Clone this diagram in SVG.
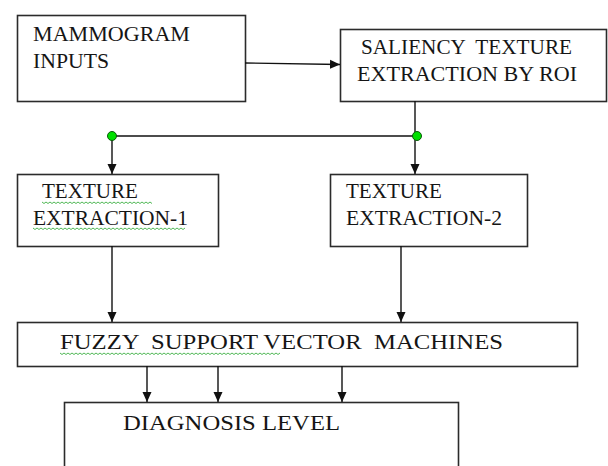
<svg xmlns="http://www.w3.org/2000/svg" width="608" height="466" viewBox="0 0 608 466">
<style>
.box{fill:#fff;stroke:#2b2b2b;stroke-width:1.6}
.t{font-family:"Liberation Serif","Times New Roman",serif;font-size:21px;fill:#151515;white-space:pre}
.c{fill:none;stroke:#111;stroke-width:1.4}
.sq{fill:none;stroke:#3cb043;stroke-width:0.9}
.dot{fill:#00e000;stroke:#0a5a0a;stroke-width:1}
</style>
<defs>
<marker id="ah" viewBox="0 0 10 10" refX="10" refY="5" markerWidth="10" markerHeight="10" markerUnits="userSpaceOnUse" orient="auto">
<path d="M0,0.5 L10,5 L0,9.5 Z" fill="#111"/>
</marker>
</defs>
<rect width="608" height="466" fill="#fff"/>
<g id="mammogram">
<rect class="box" x="17.5" y="15.5" width="228" height="86"/>
<text class="t" x="33" y="41" textLength="157" lengthAdjust="spacingAndGlyphs">MAMMOGRAM</text>
<text class="t" x="33" y="68" textLength="76" lengthAdjust="spacingAndGlyphs">INPUTS</text>
</g>
<g id="saliency">
<rect class="box" x="340.5" y="29.5" width="266" height="72"/>
<text class="t" x="361" y="54" textLength="211" lengthAdjust="spacingAndGlyphs">SALIENCY  TEXTURE</text>
<text class="t" x="357" y="81" textLength="220" lengthAdjust="spacingAndGlyphs">EXTRACTION BY ROI</text>
</g>
<g id="texture1">
<rect class="box" x="17.5" y="174.5" width="201" height="72"/>
<text class="t" x="42" y="198" textLength="96" lengthAdjust="spacingAndGlyphs">TEXTURE</text>
<text class="t" x="33" y="225" textLength="155" lengthAdjust="spacingAndGlyphs">EXTRACTION-1</text>
<path class="sq" d="M42,202 l2,1.5 2,-1.5 2,1.5 2,-1.5 2,1.5 2,-1.5 2,1.5 2,-1.5 2,1.5 2,-1.5 2,1.5 2,-1.5 2,1.5 2,-1.5 2,1.5 2,-1.5 2,1.5 2,-1.5 2,1.5 2,-1.5 2,1.5 2,-1.5 2,1.5 2,-1.5 2,1.5 2,-1.5 2,1.5 2,-1.5 2,1.5 2,-1.5 2,1.5 2,-1.5 2,1.5 2,-1.5 2,1.5 2,-1.5 2,1.5 2,-1.5 2,1.5 2,-1.5 2,1.5 2,-1.5 2,1.5 2,-1.5 2,1.5 2,-1.5 2,1.5 2,-1.5 2,1.5 2,-1.5 2,1.5 2,-1.5 2,1.5 2,-1.5 2,1.5"/>
<path class="sq" d="M33,228 l2,1.5 2,-1.5 2,1.5 2,-1.5 2,1.5 2,-1.5 2,1.5 2,-1.5 2,1.5 2,-1.5 2,1.5 2,-1.5 2,1.5 2,-1.5 2,1.5 2,-1.5 2,1.5 2,-1.5 2,1.5 2,-1.5 2,1.5 2,-1.5 2,1.5 2,-1.5 2,1.5 2,-1.5 2,1.5 2,-1.5 2,1.5 2,-1.5 2,1.5 2,-1.5 2,1.5 2,-1.5 2,1.5 2,-1.5 2,1.5 2,-1.5 2,1.5 2,-1.5 2,1.5 2,-1.5 2,1.5 2,-1.5 2,1.5 2,-1.5 2,1.5 2,-1.5 2,1.5 2,-1.5 2,1.5 2,-1.5 2,1.5 2,-1.5 2,1.5 2,-1.5 2,1.5 2,-1.5 2,1.5 2,-1.5 2,1.5 2,-1.5 2,1.5 2,-1.5 2,1.5 2,-1.5 2,1.5 2,-1.5 2,1.5 2,-1.5 2,1.5 2,-1.5 2,1.5 2,-1.5 2,1.5 2,-1.5"/>
</g>
<g id="texture2">
<rect class="box" x="330.5" y="174.5" width="197" height="72"/>
<text class="t" x="346" y="198" textLength="96" lengthAdjust="spacingAndGlyphs">TEXTURE</text>
<text class="t" x="346" y="225" textLength="156" lengthAdjust="spacingAndGlyphs">EXTRACTION-2</text>
</g>
<g id="fsvm">
<rect class="box" x="17.5" y="322.5" width="560" height="44"/>
<text class="t" x="60" y="349" textLength="443" lengthAdjust="spacingAndGlyphs">FUZZY  SUPPORT VECTOR  MACHINES</text>
<path class="sq" d="M60,353 l2,1.5 2,-1.5 2,1.5 2,-1.5 2,1.5 2,-1.5 2,1.5 2,-1.5 2,1.5 2,-1.5 2,1.5 2,-1.5 2,1.5 2,-1.5 2,1.5 2,-1.5 2,1.5 2,-1.5 2,1.5 2,-1.5 2,1.5 2,-1.5 2,1.5 2,-1.5 2,1.5 2,-1.5 2,1.5 2,-1.5 2,1.5 2,-1.5 2,1.5 2,-1.5 2,1.5 2,-1.5 2,1.5 2,-1.5 2,1.5 2,-1.5 2,1.5 2,-1.5 2,1.5 2,-1.5 2,1.5 2,-1.5 2,1.5 2,-1.5 2,1.5 2,-1.5 2,1.5 2,-1.5 2,1.5 2,-1.5 2,1.5 2,-1.5 2,1.5 2,-1.5 2,1.5 2,-1.5 2,1.5 2,-1.5 2,1.5 2,-1.5 2,1.5 2,-1.5 2,1.5 2,-1.5 2,1.5 2,-1.5 2,1.5 2,-1.5 2,1.5 2,-1.5 2,1.5 2,-1.5 2,1.5 2,-1.5 2,1.5 2,-1.5 2,1.5 2,-1.5 2,1.5 2,-1.5 2,1.5 2,-1.5 2,1.5 2,-1.5 2,1.5 2,-1.5 2,1.5 2,-1.5 2,1.5 2,-1.5 2,1.5 2,-1.5 2,1.5 2,-1.5 2,1.5 2,-1.5 2,1.5 2,-1.5 2,1.5 2,-1.5 2,1.5 2,-1.5 2,1.5 2,-1.5 2,1.5 2,-1.5 2,1.5 2,-1.5"/>
</g>
<g id="diagnosis">
<rect class="box" x="64.5" y="402.5" width="394" height="80"/>
<text class="t" x="123" y="430" textLength="217" lengthAdjust="spacingAndGlyphs">DIAGNOSIS LEVEL</text>
</g>
<g id="connectors">
<path class="c" d="M245,63 L340,64.5" marker-end="url(#ah)"/>
<path class="c" d="M415,101 L415,136"/>
<path class="c" d="M112,136 L417,136"/>
<path class="c" d="M112,136 L112,174" marker-end="url(#ah)"/>
<path class="c" d="M415,136 L415,174" marker-end="url(#ah)"/>
<path class="c" d="M112,246 L112,322" marker-end="url(#ah)"/>
<path class="c" d="M401,246 L401,322" marker-end="url(#ah)"/>
<path class="c" d="M147,366 L147,402" marker-end="url(#ah)"/>
<path class="c" d="M218,366 L218,402" marker-end="url(#ah)"/>
<path class="c" d="M342,366 L342,402" marker-end="url(#ah)"/>
<circle class="dot" cx="112" cy="136" r="4.5"/>
<circle class="dot" cx="417" cy="136" r="4.5"/>
</g>
</svg>
